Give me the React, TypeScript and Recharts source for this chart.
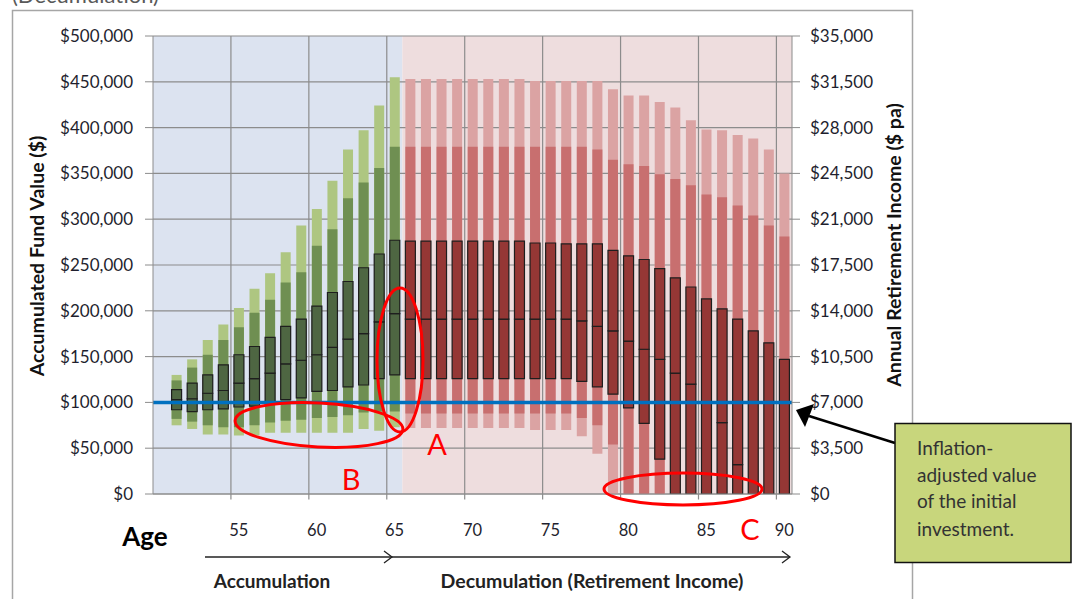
import React from "react";
import {
    ComposedChart,
    Bar,
    XAxis,
    YAxis,
    CartesianGrid,
    ReferenceArea,
    ReferenceLine,
    Cell,
} from "recharts";

// ages shown on the chart (50 is an empty slot at the left edge)
const ages = [
    51, 52, 53, 54, 55, 56, 57, 58, 59, 60, 61, 62, 63, 64, 65,
    66, 67, 68, 69, 70, 71, 72, 73, 74, 75, 76, 77, 78, 79, 80,
    81, 82, 83, 84, 85, 86, 87, 88, 89, 90,
];

// percentile bands of the fund value ($)
const p95 = [
    130000, 147000, 168000, 185000, 203000, 224000, 241000, 264000, 293000, 311000, 342000, 376000, 397000, 424000, 455000,
    453000, 453000, 453000, 453000, 453000, 453000, 453000, 453000, 451000, 451000, 451000, 451000, 451000, 442000, 435000,
    435000, 428000, 422000, 408000, 398000, 397000, 392000, 388000, 376000, 350000,
];
const p90 = [
    124000, 138000, 152000, 168000, 182000, 198000, 212000, 231000, 242000, 271000, 289000, 323000, 340000, 356000, 379000,
    379000, 379000, 379000, 379000, 379000, 379000, 379000, 379000, 379000, 379000, 379000, 379000, 376000, 365000, 360000,
    358000, 349000, 344000, 337000, 327000, 324000, 315000, 304000, 293000, 281000,
];
const p75 = [
    114000, 121000, 130000, 141000, 152000, 161000, 171000, 183000, 191000, 205000, 220000, 232000, 247000, 262000, 277000,
    276000, 276000, 276000, 276000, 276000, 276000, 276000, 276000, 274000, 274000, 273000, 273000, 273000, 266000, 260000,
    256000, 246000, 236000, 226000, 213000, 202000, 191000, 178000, 165000, 147000,
];
const p50 = [
    103000, 104000, 110000, 113000, 121000, 126000, 132000, 142000, 146000, 152000, 160000, 169000, 175000, 188000, 197000,
    191000, 191000, 191000, 191000, 191000, 191000, 191000, 191000, 191000, 191000, 191000, 189000, 183000, 178000, 167000,
    158000, 147000, 132000, 120000, 100000, 78000, 32000, 0, 0, 0,
];
const p25 = [
    92000, 90000, 92000, 93000, 95000, 96000, 98000, 103000, 105000, 112000, 113000, 117000, 119000, 126000, 130000,
    126000, 126000, 126000, 126000, 126000, 126000, 126000, 126000, 126000, 126000, 126000, 123000, 117000, 109000, 94000,
    77000, 38000, 0, 0, 0, 0, 0, 0, 0, 0,
];
const p10 = [
    82000, 79000, 75000, 73000, 73000, 75000, 78000, 80000, 81000, 83000, 84000, 86000, 89000, 90000, 90000,
    88000, 88000, 88000, 88000, 88000, 88000, 88000, 88000, 88000, 88000, 88000, 83000, 75000, 54000, 0,
    0, 0, 0, 0, 0, 0, 0, 0, 0, 0,
];
const p5 = [
    75000, 71000, 65000, 65000, 64000, 64000, 67000, 67000, 67000, 67000, 67000, 67000, 71000, 69000, 73000,
    72000, 72000, 72000, 72000, 72000, 72000, 72000, 72000, 70000, 70000, 70000, 63000, 44000, 0, 0,
    0, 0, 0, 0, 0, 0, 0, 0, 0, 0,
];

const initialInvestment = 100000;
const retirementAge = 65;
const ageTicks = [55, 60, 65, 70, 75, 80, 85, 90];
const ageGrid = [54.5, 59.5, 64.5, 69.5, 74.5, 79.5, 84.5, 89.5];
const fundTicks = [0, 50000, 100000, 150000, 200000, 250000, 300000, 350000, 400000, 450000, 500000];
const incomeTicks = [0, 3500, 7000, 10500, 14000, 17500, 21000, 24500, 28000, 31500, 35000];

const GREEN = { light: "#AEC681", mid: "#6F8F52", box: "#4E6642" };
const RED = { light: "#DBA3A3", mid: "#C86F6F", box: "#953735" };
const GRID = "#8c8c8c";
const FONT = "Lato, 'Open Sans', sans-serif";

const rows = ages.map((age, i) => ({
    age,
    light: [p5[i], p95[i]],
    mid: [p10[i], p90[i]],
    lower: [p25[i], p50[i]],
    upper: [p50[i], p75[i]],
}));

const palette = (age: number) => (age <= retirementAge ? GREEN : RED);
const dollars = (v: number) => "$" + v.toLocaleString("en-US");
const tickStyle = { fontSize: 17, fill: "#1f1f2e", fontFamily: FONT };
const xTickStyle = { fontSize: 16.5, fill: "#1f1f2e", fontFamily: FONT };

const ageDomain: [number, number] = [49.5, 90.5];

function Overlay() {
    return (
        <svg
            width={1076}
            height={599}
            style={{ position: "absolute", left: 0, top: 0, pointerEvents: "none" }}
            fontFamily={FONT}
        >
            <rect x={12.5} y={10.5} width={900} height={600} fill="none" stroke="#a6a6a6" strokeWidth={1.5} />
            <text x={12} y={3} fontSize={22} fill="#595959">(Decumulation)</text>

            <text transform="translate(36,256) rotate(-90)" textAnchor="middle" dominantBaseline="central"
                fontSize={19.5} fontWeight="bold" fill="#111">Accumulated Fund Value ($)</text>
            <text transform="translate(893,245) rotate(-90)" textAnchor="middle" dominantBaseline="central"
                fontSize={19.5} fontWeight="bold" fill="#111">Annual Retirement Income ($ pa)</text>

            <text x={145} y={546} textAnchor="middle" fontSize={26} fontWeight="bold" fill="#000">Age</text>

            {/* phase arrows */}
            <g stroke="#222" strokeWidth={1.3} fill="none">
                <line x1={205} y1={557} x2={392} y2={557} />
                <polyline points="384,551 392,557 384,563" />
                <line x1={392} y1={557} x2={790} y2={557} />
                <polyline points="782,551 790,557 782,563" />
            </g>
            <text x={272} y={588} textAnchor="middle" fontSize={19} fontWeight="bold" fill="#222">Accumulation</text>
            <text x={592} y={588} textAnchor="middle" fontSize={19.5} fontWeight="bold" fill="#222">Decumulation (Retirement Income)</text>

            {/* hand drawn call-outs */}
            <g stroke="#ff0000" strokeWidth={3} fill="none">
                <ellipse cx={400} cy={360} rx={23} ry={72} />
                <ellipse cx={319} cy={425} rx={84} ry={22} transform="rotate(3 319 425)" />
                <ellipse cx={683} cy={489} rx={79} ry={16} />
            </g>
            <g fill="#ff0000" fontSize={29} textAnchor="middle">
                <text x={437} y={455}>A</text>
                <text x={351} y={490}>B</text>
                <text x={750} y={540}>C</text>
            </g>

            {/* note box */}
            <line x1={809} y1={416} x2={895} y2={443} stroke="#000" strokeWidth={2.5} />
            <polygon points="796,410 814,404 805,427" fill="#000" />
            <rect x={895} y={423.5} width={176} height={139} fill="#C8D67C" stroke="#111" strokeWidth={1.5} />
            <g fontSize={19} fill="#333">
                <text x={917} y={455}>Inflation-</text>
                <text x={917} y={482}>adjusted value</text>
                <text x={917} y={508}>of the initial</text>
                <text x={917} y={536}>investment.</text>
            </g>
        </svg>
    );
}

export default function App() {
    return (
        <div style={{ position: "absolute", left: 0, top: 0, width: 1076, height: 599, background: "#fff", overflow: "hidden" }}>
            <ComposedChart
                width={1076}
                height={599}
                data={rows}
                margin={{ top: 36, right: 184, bottom: 65, left: 53 }}
            >
                <XAxis
                    xAxisId="age"
                    dataKey="age"
                    type="number"
                    domain={ageDomain}
                    allowDataOverflow
                    ticks={ageTicks}
                    interval={0}
                    tickLine={false}
                    tickSize={0}
                    tickMargin={30}
                    height={40}
                    axisLine={{ stroke: GRID }}
                    tick={xTickStyle}
                />
                <XAxis xAxisId="age2" dataKey="age" type="number" domain={ageDomain} allowDataOverflow hide />
                <XAxis xAxisId="age3" dataKey="age" type="number" domain={ageDomain} allowDataOverflow hide />
                <XAxis xAxisId="age4" dataKey="age" type="number" domain={ageDomain} allowDataOverflow hide />
                <YAxis
                    yAxisId="fund"
                    domain={[0, 500000]}
                    allowDataOverflow
                    ticks={fundTicks}
                    interval={0}
                    width={100}
                    tickSize={8}
                    tickMargin={12}
                    tickFormatter={dollars}
                    axisLine={{ stroke: GRID }}
                    tickLine={{ stroke: GRID }}
                    tick={tickStyle}
                />
                <YAxis
                    yAxisId="income"
                    orientation="right"
                    domain={[0, 35000]}
                    allowDataOverflow
                    ticks={incomeTicks}
                    interval={0}
                    width={100}
                    tickSize={8}
                    tickMargin={10}
                    tickFormatter={dollars}
                    axisLine={{ stroke: GRID }}
                    tickLine={{ stroke: GRID }}
                    tick={tickStyle}
                />

                {/* accumulation / decumulation backgrounds */}
                <ReferenceArea xAxisId="age" yAxisId="fund" x1={49.5} x2={retirementAge + 0.5} y1={0} y2={500000}
                    fill="#DCE3F0" fillOpacity={1} stroke="none" zIndex={-200} />
                <ReferenceArea xAxisId="age" yAxisId="fund" x1={retirementAge + 0.5} x2={90.5} y1={0} y2={500000}
                    fill="#EEDDDE" fillOpacity={1} stroke="none" zIndex={-200} />

                <CartesianGrid xAxisId="age" yAxisId="fund" vertical={false} stroke={GRID} strokeWidth={1.2} />
                {ageGrid.map((a) => (
                    <ReferenceLine
                        key={a}
                        xAxisId="age"
                        yAxisId="fund"
                        segment={[{ x: a, y: -6000 }, { x: a, y: 500000 }]}
                        stroke={GRID}
                        strokeWidth={1.2}
                        ifOverflow="visible"
                    />
                ))}

                <Bar xAxisId="age" yAxisId="fund" dataKey="light" barSize={10} isAnimationActive={false}>
                    {rows.map((r) => <Cell key={r.age} fill={palette(r.age).light} />)}
                </Bar>
                <Bar xAxisId="age2" yAxisId="fund" dataKey="mid" barSize={10} isAnimationActive={false}>
                    {rows.map((r) => <Cell key={r.age} fill={palette(r.age).mid} />)}
                </Bar>
                <Bar xAxisId="age3" yAxisId="fund" dataKey="lower" barSize={10} isAnimationActive={false}
                    stroke="#1e1e1e" strokeWidth={1.2}>
                    {rows.map((r) => <Cell key={r.age} fill={palette(r.age).box} />)}
                </Bar>
                <Bar xAxisId="age4" yAxisId="fund" dataKey="upper" barSize={10} isAnimationActive={false}
                    stroke="#1e1e1e" strokeWidth={1.2}>
                    {rows.map((r) => <Cell key={r.age} fill={palette(r.age).box} />)}
                </Bar>

                <ReferenceLine xAxisId="age" yAxisId="fund" y={initialInvestment} stroke="#0070C0" strokeWidth={3.5} />
            </ComposedChart>
            <Overlay />
        </div>
    );
}
